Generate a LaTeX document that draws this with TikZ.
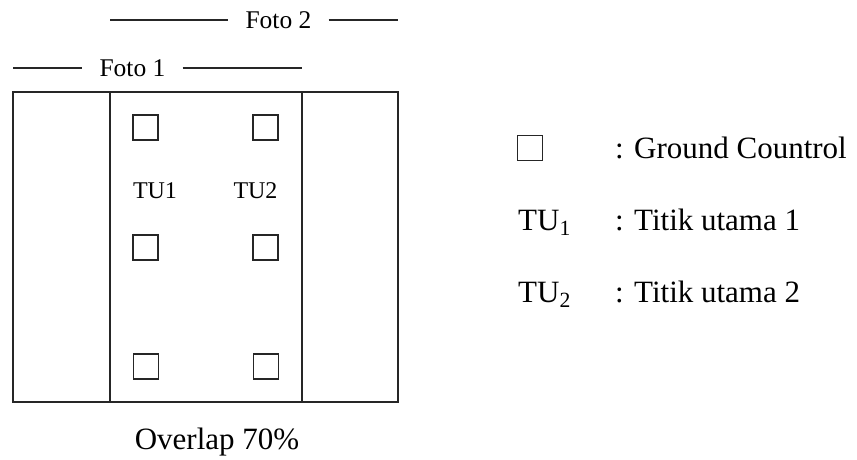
\documentclass[tikz,border=0pt]{standalone}
\usepackage{fontspec}
\setmainfont{Liberation Serif}
\begin{document}
\begin{tikzpicture}[x=1pt,y=-1pt,
  frame/.style={draw=black!85,line width=1.4pt},
  gcp/.style={draw=black!85,line width=1.3pt,minimum size=25pt,inner sep=0pt},
  lbl/.style={font=\fontsize{24}{29}\selectfont,inner sep=0pt},
  big/.style={font=\fontsize{31}{37}\selectfont,inner sep=0pt},
  span/.style={font=\fontsize{25.5}{30}\selectfont,inner sep=0pt,inner xsep=17pt},
  rule/.style={draw=black!85,line width=1.3pt}]
\useasboundingbox (0,0) rectangle (857,460);

% photo strips and overlap zone
\draw[frame] (13,92) rectangle (398,402);
\coordinate (c1t) at (110,92);  \coordinate (c1b) at (110,402);
\coordinate (c2t) at (302,92);  \coordinate (c2b) at (302,402);
\draw[frame] (c1t) -- (c1b);
\draw[frame] (c2t) -- (c2b);

% extent of each photo
\node[span] (foto2) at (278.5,20) {Foto 2};
\coordinate (f2l) at (110,20); \coordinate (f2r) at (398,20);
\draw[rule] (f2l) -- (foto2.west);
\draw[rule] (foto2.east) -- (f2r);
\node[span] (foto1) at (132.5,68) {Foto 1};
\coordinate (f1l) at (13,68); \coordinate (f1r) at (302,68);
\draw[rule] (f1l) -- (foto1.west);
\draw[rule] (foto1.east) -- (f1r);

% ground control points
\node[gcp] (g11) at (145.5,127.5) {};
\node[gcp] (g12) at (265.5,127.5) {};
\node[gcp] (g21) at (145.5,247.5) {};
\node[gcp] (g22) at (265.5,247.5) {};
\node[gcp] (g31) at (146,366.5) {};
\node[gcp] (g32) at (266,366.5) {};

% principal points
\node[lbl,anchor=base] (tu1) at (155,198) {TU1};
\node[lbl,anchor=base] (tu2) at (255.5,198) {TU2};

\node[big,anchor=base] (ovl) at (217,449) {Overlap 70\%};

% legend
\node[gcp] (lg) at (530,148) {};
\node[big,anchor=base west] (lgt) at (615,158) {: Ground Countrol};
\node[big,anchor=base west] (l1) at (518,230) {TU\textsubscript{1}};
\node[big,anchor=base west] (l1t) at (615,230) {: Titik utama 1};
\node[big,anchor=base west] (l2) at (518,302) {TU\textsubscript{2}};
\node[big,anchor=base west] (l2t) at (615,302) {: Titik utama 2};
\end{tikzpicture}
\end{document}
